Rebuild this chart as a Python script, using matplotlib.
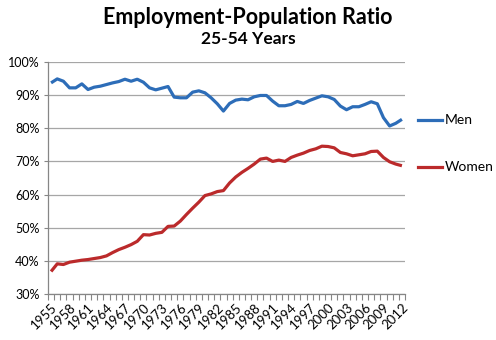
import matplotlib
matplotlib.use("Agg")
import matplotlib.pyplot as plt
from matplotlib.ticker import FixedLocator, FuncFormatter

years = list(range(1955, 2013))
men = [93.7, 94.9, 94.2, 92.2, 92.2, 93.4, 91.7, 92.4, 92.7, 93.2,
       93.7, 94.1, 94.8, 94.2, 94.8, 93.9, 92.2, 91.6, 92.1, 92.6,
       89.4, 89.2, 89.2, 90.9, 91.3, 90.7, 89.2, 87.4, 85.2, 87.5,
       88.5, 88.8, 88.6, 89.5, 89.9, 89.9, 88.2, 86.8, 86.8, 87.2,
       88.1, 87.5, 88.4, 89.1, 89.8, 89.5, 88.7, 86.7, 85.6, 86.5,
       86.5, 87.2, 88.0, 87.4, 83.2, 80.7, 81.5, 82.7]
women = [36.8, 39.1, 38.9, 39.6, 39.9, 40.2, 40.4, 40.7, 41.0, 41.5,
         42.5, 43.4, 44.1, 44.9, 45.9, 47.9, 47.8, 48.3, 48.6, 50.4,
         50.5, 52.0, 54.0, 55.9, 57.7, 59.7, 60.2, 60.9, 61.2, 63.5,
         65.3, 66.7, 67.9, 69.2, 70.7, 71.0, 70.0, 70.4, 70.0, 71.2,
         71.9, 72.5, 73.3, 73.8, 74.6, 74.5, 74.1, 72.7, 72.3, 71.7,
         72.0, 72.3, 73.0, 73.1, 71.2, 69.9, 69.2, 68.7]
y_ticks = [30, 40, 50, 60, 70, 80, 90, 100]
series_names = ["Men", "Women"]

plt.rcParams['font.family'] = ['Lato', 'DejaVu Sans']

fig = plt.figure(figsize=(4.96, 3.4), dpi=100)
ax = fig.add_axes([48/496, 1-294/340, (405-48)/496, (294-62)/340])

idx = list(range(len(years)))
blue = "#2D6DB8"
red = "#BB2A2B"
ax.plot(idx, men, color=blue, lw=2.3, solid_joinstyle='round', solid_capstyle='butt')
ax.plot(idx, women, color=red, lw=2.3, solid_joinstyle='round', solid_capstyle='butt')

ax.set_xlim(-0.5, len(years) - 0.5)
ax.set_ylim(30, 100)
ax.set_yticks(y_ticks)
ax.yaxis.set_major_formatter(FuncFormatter(lambda v, p: f"{int(v)}%"))
ax.grid(axis='y', color='#A6A6A6', lw=0.9)
ax.set_axisbelow(True)

lab_idx = idx[::3]
ax.set_xticks(lab_idx)
ax.set_xticklabels([str(years[i]) for i in lab_idx], rotation=45, ha='right',
                   rotation_mode='anchor', fontsize=9.5)
ax.tick_params(axis='x', which='major', length=0, pad=5)
ax.xaxis.set_minor_locator(FixedLocator([i - 0.5 for i in range(len(years) + 1)]))
ax.tick_params(axis='x', which='minor', length=4, color='#868686', width=0.8)
ax.tick_params(axis='y', length=3, color='#868686', labelsize=9, pad=3)

for s in ['top', 'right']:
    ax.spines[s].set_visible(False)
for s in ['left', 'bottom']:
    ax.spines[s].set_color('#868686')
    ax.spines[s].set_linewidth(0.9)

# legend entries at the right
for name, col, yv in [(series_names[0], blue, 120), (series_names[1], red, 167)]:
    fy = 1 - yv/340
    fig.add_artist(plt.Line2D([418/496, 442/496], [fy, fy], color=col, lw=2.3,
                              transform=fig.transFigure))
    fig.text(445/496, fy, name, fontsize=10, va='center', ha='left')

fig.text(0.5, 1-17/340, "Employment-Population Ratio", fontsize=15.5, fontweight='bold',
         ha='center', va='center')
fig.text(0.5, 1-39/340, "25-54 Years", fontsize=12.5, fontweight='bold',
         ha='center', va='center')

fig.savefig("out.png", dpi=100)
